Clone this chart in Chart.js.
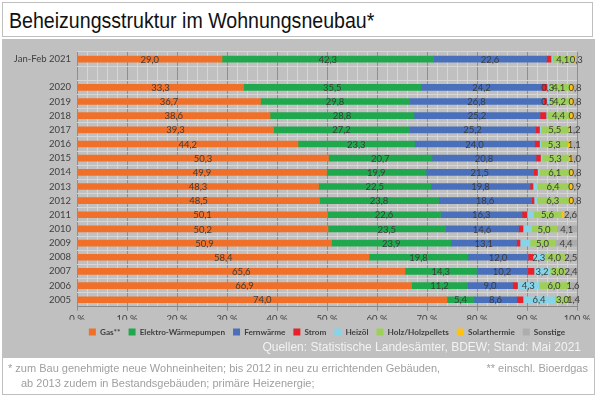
<!DOCTYPE html>
<html><head><meta charset="utf-8">
<script src="https://cdn.jsdelivr.net/npm/chart.js@4/dist/chart.umd.min.js"></script>
<style>
html,body{margin:0;padding:0;background:#fff;}
#wrap{position:relative;width:597px;height:398px;overflow:hidden;background:#fff;}
#title{position:absolute;left:2px;top:2px;width:591px;height:35px;background:#fff;border:1px solid #bfbfbf;box-sizing:border-box;}
#title span{position:absolute;left:6px;top:0;font-family:"Liberation Sans",Arial,sans-serif;font-size:22px;color:#111;line-height:35px;transform:scaleX(0.89);transform-origin:left center;white-space:nowrap;}
#panel{position:absolute;left:2px;top:39px;width:593px;height:318px;background:#c0c0c0;}
#cv{position:absolute;left:1px;top:1px;}
#src{position:absolute;right:14px;top:301px;font-family:"Liberation Sans",Arial,sans-serif;font-size:12px;color:#f2f2f2;white-space:nowrap;}
#foot{position:absolute;left:2px;top:357px;width:593px;height:38px;background:#fff;border:1px solid #bfbfbf;box-sizing:border-box;font-family:"Liberation Sans",Arial,sans-serif;font-size:11px;color:#a0a0a0;}
#f1{position:absolute;left:5px;top:4px;white-space:nowrap;}
#f2{position:absolute;left:18px;top:19px;white-space:nowrap;}
#f3{position:absolute;right:6px;top:4px;white-space:nowrap;}
</style></head>
<body>
<div id="wrap">
  <div id="title"><span>Beheizungsstruktur im Wohnungsneubau*</span></div>
  <div id="panel">
    <canvas id="cv" width="591" height="316"></canvas>
    <div id="src">Quellen: Statistische Landesämter, BDEW; Stand: Mai 2021</div>
  </div>
  <div id="foot">
    <div id="f1">* zum Bau genehmigte neue Wohneinheiten; bis 2012 in neu zu errichtenden Gebäuden,</div>
    <div id="f2">ab 2013 zudem in Bestandsgebäuden; primäre Heizenergie;</div>
    <div id="f3">** einschl. Bioerdgas</div>
  </div>
</div>
<script>
const categories = ['Jan-Feb 2021','','2020','2019','2018','2017','2016','2015','2014','2013','2012','2011','2010','2009','2008','2007','2006','2005'];
const gas     = [29.0,null,33.3,36.7,38.6,39.3,44.2,50.3,49.9,48.3,48.5,50.1,50.2,50.9,58.4,65.6,66.9,74.0];
const waermepumpen = [42.3,null,35.5,29.8,28.8,27.2,23.3,20.7,19.9,22.5,23.8,22.6,23.5,23.9,19.8,14.3,11.2,5.4];
const fernwaerme = [22.6,null,24.2,26.8,25.2,25.2,24.0,20.8,21.5,19.8,18.6,16.3,14.6,13.1,12.0,10.2,9.0,8.6];
const strom   = [0.9,null,1.0,0.6,1.2,0.8,1.0,0.9,0.8,0.6,0.5,1.0,0.9,0.7,1.0,1.3,1.0,1.2];
const heizoel = [0.3,null,0.3,0.5,0.3,0.3,0.3,0.3,0.4,0.8,0.6,1.3,1.7,2.0,2.3,3.2,4.3,6.4];
const holz    = [4.1,null,4.1,4.2,4.4,5.5,5.3,5.3,6.1,6.4,6.3,5.6,5.0,5.0,4.0,3.0,6.0,3.0];
const solar   = [0.5,null,0.8,0.6,0.7,0.5,0.8,0.7,0.6,0.7,0.9,0.5,0,0,0,0,0,0];
const sonstige= [0.3,null,0.8,0.8,0.8,1.2,1.1,1.0,0.8,0.9,0.8,2.6,4.1,4.4,2.5,2.4,1.6,1.4];
const heizoelLabelRows = ['2020','2019','2008','2007','2006','2005'];
const xTickValues = [0,10,20,30,40,50,60,70,80,90,100];

const labelPlugin = {
  id: 'valLabels',
  afterDatasetsDraw(chart) {
    const ctx = chart.ctx;
    ctx.save();
    ctx.font = '9.5px Lato, "Open Sans", sans-serif';
    ctx.fillStyle = '#3c3c3c';
    ctx.textAlign = 'center';
    ctx.textBaseline = 'middle';
    chart.data.datasets.forEach((ds, di) => {
      if (!ds.showLabels) return;
      const meta = chart.getDatasetMeta(di);
      meta.data.forEach((el, i) => {
        const v = ds.data[i];
        if (v == null || v === 0) return;
        if (ds.labelRows && !ds.labelRows.includes(categories[i])) return;
        const x = (el.x + el.base) / 2;
        ctx.fillText(v.toFixed(1).replace('.', ','), x, el.y + 0.5);
      });
    });
    ctx.restore();
  }
};

const mk = (label, data, color, showLabels, labelRows) => ({
  label, data, backgroundColor: color, borderWidth: 0, barThickness: 6,
  showLabels, labelRows
});

new Chart(document.getElementById('cv'), {
  type: 'bar',
  data: {
    labels: categories,
    datasets: [
      mk('Gas**', gas, '#F0702A', true),
      mk('Elektro-Wärmepumpen', waermepumpen, '#20A84E', true),
      mk('Fernwärme', fernwaerme, '#4A70BC', true),
      mk('Strom', strom, '#E8202A', false),
      mk('Heizöl', heizoel, '#86D4E8', true, heizoelLabelRows),
      mk('Holz/Holzpellets', holz, '#9DCF59', true),
      mk('Solarthermie', solar, '#FFC20E', false),
      mk('Sonstige', sonstige, '#ADADAD', true)
    ]
  },
  plugins: [labelPlugin],
  options: {
    indexAxis: 'y',
    responsive: false,
    animation: false,
    events: [],
    layout: { padding: { left: 0, right: 17, top: 12, bottom: 10 } },
    scales: {
      x: {
        stacked: true, min: 0, max: 100,
        border: { display: true, color: '#8a8a8a' },
        afterFit(s) { s.height = 13; },
        afterBuildTicks(s) {
          const t = [];
          for (let v = 0; v <= 100; v += 2) t.push({ value: v });
          s.ticks = t;
        },
        grid: {
          color: c => (c.tick && xTickValues.includes(c.tick.value)) ? '#8e8e8e' : '#d6d6d6',
          tickLength: 4,
          tickColor: c => (c.tick && xTickValues.includes(c.tick.value)) ? '#8e8e8e' : 'rgba(0,0,0,0)'
        },
        ticks: {
          autoSkip: false, maxRotation: 0, padding: 2,
          color: '#404040',
          font: { family: 'Lato, "Open Sans", sans-serif', size: 9.5 },
          callback: v => xTickValues.includes(v) ? v + ' %' : ''
        }
      },
      y: {
        stacked: true,
        afterFit(s) { s.width = 74; },
        border: { display: false },
        grid: { color: '#d6d6d6', drawTicks: false, offset: true },
        ticks: {
          padding: 6, autoSkip: false,
          color: '#404040',
          font: { family: 'Lato, "Open Sans", sans-serif', size: 9.5 }
        }
      }
    },
    plugins: {
      tooltip: { enabled: false },
      legend: {
        position: 'bottom',
        fullSize: false,
        labels: {
          boxWidth: 7, boxHeight: 7, padding: 8,
          color: '#404040',
          font: { family: 'Lato, "Open Sans", sans-serif', size: 8.2, weight: 'bold' }
        }
      }
    }
  }
});
</script>
</body></html>
